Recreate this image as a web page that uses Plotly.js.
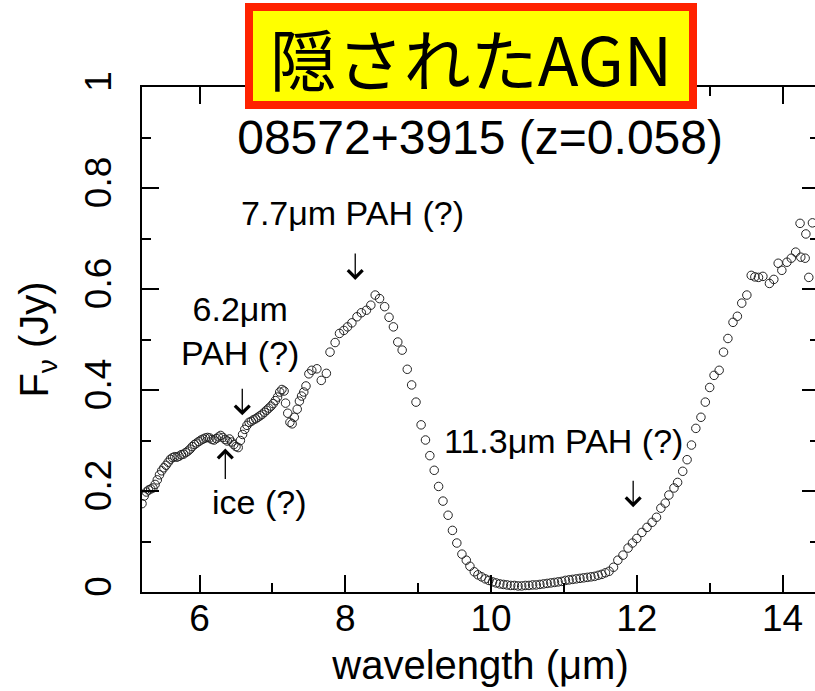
<!DOCTYPE html>
<html>
<head>
<meta charset="utf-8">
<script src="https://cdn.plot.ly/plotly-3.0.1.min.js"></script>
<style>
html,body{margin:0;padding:0;overflow:hidden;background:#fff;}
#chart{width:822px;height:691px;}
</style>
</head>
<body>
<div id="chart"></div>
<script>
const wavelength = [
 5.21,5.24,5.27,5.30,5.33,5.36,5.39,5.42,5.45,5.48,5.51,5.54,5.57,5.60,5.63,5.66,5.69,5.72,5.75,5.78,
 5.81,5.84,5.87,5.90,5.93,5.96,5.99,6.02,6.05,6.08,6.11,6.14,6.17,6.20,6.23,6.26,6.29,6.32,6.35,6.38,
 6.41,6.44,6.47,6.50,6.53,6.56,6.59,6.62,6.65,6.68,6.71,6.74,6.77,6.80,6.83,6.86,6.89,6.92,6.95,6.98,
 7.01,7.04,7.07,7.10,7.13,7.16,
 7.18,7.21,7.24,7.27,7.30,7.34,7.37,7.40,7.43,7.46,7.50,7.54,7.61,7.67,7.74,7.79,7.86,7.92,7.98,8.03,
 8.09,8.16,8.22,8.29,8.35,8.41,8.47,8.54,8.60,8.66,8.72,8.78,8.85,8.91,8.97,9.04,9.10,9.16,9.22,9.28,
 9.34,9.41,9.47,9.53,9.60,9.66,9.71,9.77,9.82,9.87,9.92,9.97,10.02,10.07,10.12,10.17,10.22,10.27,10.32,10.37,
 10.42,10.47,10.52,10.57,10.62,10.67,10.72,10.77,10.82,10.87,10.92,10.97,11.02,11.07,11.12,11.17,11.22,11.27,11.32,11.37,
 11.42,11.47,11.52,11.57,11.62,11.68,11.74,11.81,11.88,11.94,12.00,12.07,12.14,12.21,12.27,12.33,12.39,12.44,12.51,12.56,
 12.63,12.69,12.75,12.81,12.88,12.94,13.00,13.06,13.13,13.19,13.25,13.32,13.38,13.44,13.51,13.57,13.62,13.67,13.73,13.82,
 13.88,13.94,13.99,14.06,14.12,14.18,14.24,14.25,14.32,14.31,14.36,14.41
];
const flux = [
 0.175,0.190,0.198,0.202,0.204,0.206,0.213,0.222,0.232,0.240,0.246,0.251,0.257,0.263,0.266,0.268,0.267,0.269,0.272,0.273,
 0.276,0.279,0.283,0.288,0.292,0.295,0.298,0.301,0.303,0.305,0.306,0.305,0.302,0.301,0.304,0.307,0.310,0.306,0.302,0.299,
 0.303,0.297,0.292,0.288,0.286,0.300,0.312,0.322,0.330,0.336,0.338,0.341,0.343,0.346,0.349,0.352,0.356,0.360,0.364,0.368,
 0.373,0.379,0.386,0.396,0.401,0.398,
 0.374,0.354,0.336,0.333,0.346,0.362,0.378,0.388,0.396,0.408,0.432,0.439,0.442,0.419,0.433,0.475,0.494,0.512,0.518,0.525,
 0.533,0.545,0.553,0.558,0.568,0.588,0.581,0.565,0.544,0.525,0.495,0.479,0.441,0.410,0.376,0.331,0.301,0.270,0.241,0.209,
 0.180,0.152,0.122,0.097,0.075,0.063,0.051,0.040,0.034,0.030,0.026,0.023,0.020,0.018,0.016,0.015,0.014,0.013,0.013,0.012,
 0.012,0.013,0.013,0.014,0.014,0.015,0.016,0.017,0.018,0.019,0.020,0.021,0.023,0.024,0.025,0.026,0.027,0.028,0.029,0.030,
 0.031,0.033,0.035,0.038,0.041,0.049,0.063,0.073,0.087,0.097,0.106,0.118,0.128,0.138,0.148,0.166,0.176,0.192,0.206,0.217,
 0.239,0.262,0.291,0.324,0.346,0.376,0.405,0.429,0.439,0.475,0.502,0.534,0.546,0.572,0.588,0.627,0.624,0.623,0.625,0.611,
 0.619,0.651,0.637,0.653,0.661,0.673,0.730,0.663,0.709,0.661,0.623,0.731
];

const xTickVals = [6, 8, 10, 12, 14];
const yTickVals = [0, 0.2, 0.4, 0.6, 0.8, 1];

const mainTitle = "08572+3915 (z=0.058)";
const bannerText = "隠されたAGN";
const xTitle = "wavelength (μm)";
const yTitle = "F<sub>ν</sub> (Jy)";

// feature labels: [text, wavelength, flux]
const featureLabels = [
  ["7.7μm PAH (?)", 8.095, 0.750],
  ["6.2μm<br>PAH (?)", 6.55, 0.516],
  ["ice (?)", 6.82, 0.178],
  ["11.3μm PAH (?)", 11.0, 0.300]
];
// feature arrows: [tip wavelength, tip flux, direction (+1 = points down, -1 = points up)]
const featureArrows = [
  [8.136, 0.618, 1],
  [6.586, 0.350, 1],
  [6.353, 0.284, -1],
  [11.95, 0.168, 1]
];

const FONT = "Liberation Sans, Arial, Helvetica, sans-serif";

const trace = {
  x: wavelength,
  y: flux,
  type: "scatter",
  mode: "markers",
  marker: {symbol: "circle-open", size: 8.5, color: "#222", line: {width: 1, color: "#222"}},
  hoverinfo: "x+y"
};

const annotations = featureLabels.map(f => ({
  text: f[0], x: f[1], y: f[2], xref: "x", yref: "y",
  showarrow: false, xanchor: "center", yanchor: "middle",
  font: {family: FONT, size: 34, color: "#000"}
}));

featureArrows.forEach(a => annotations.push({
  text: "", x: a[0], y: a[1], xref: "x", yref: "y",
  showarrow: true, ax: 0, ay: a[2] > 0 ? -28 : 32,
  arrowhead: 4, arrowsize: 2.2, arrowwidth: 1.3, arrowcolor: "#000"
}));

annotations.push({
  text: bannerText,
  xref: "paper", yref: "paper",
  x: (471 - 142) / 677, y: (592 - 56.5) / 505,
  xanchor: "center", yanchor: "middle",
  showarrow: false,
  width: 436, height: 90,
  bgcolor: "#ffff00", bordercolor: "#ff2200", borderwidth: 8, borderpad: 0,
  font: {family: "Noto Sans CJK JP, sans-serif", size: 67, color: "#000"}
});

const axisCommon = {
  showgrid: false, zeroline: false,
  showline: true, linecolor: "#000", linewidth: 2,
  mirror: "ticks", ticks: "inside", ticklen: 17, tickwidth: 2, tickcolor: "#000",
  tickfont: {family: FONT, size: 37, color: "#000"}
};

const layout = {
  width: 822, height: 691,
  margin: {l: 142, r: 3, t: 87, b: 99, pad: 0},
  paper_bgcolor: "#fff", plot_bgcolor: "#fff",
  showlegend: false,
  font: {family: FONT, color: "#000"},
  title: {
    text: mainTitle,
    xref: "container", yref: "container",
    x: 476 / 815, y: 1 - 137 / 691,
    xanchor: "center", yanchor: "middle",
    font: {family: FONT, size: 48, color: "#000"}
  },
  xaxis: Object.assign({}, axisCommon, {
    range: [5.21, 14.5],
    tickvals: xTickVals,
    minor: {dtick: 1, ticks: "inside", ticklen: 9, tickwidth: 2, tickcolor: "#000"},
    ticklabelstandoff: -7,
    title: {text: xTitle, font: {family: FONT, size: 40, color: "#000"}, standoff: 13}
  }),
  yaxis: Object.assign({}, axisCommon, {
    range: [0, 1],
    tickvals: yTickVals,
    tickangle: -90,
    minor: {dtick: 0.1, ticks: "inside", ticklen: 9, tickwidth: 2, tickcolor: "#000"},
    ticklabelstandoff: 14,
    title: {text: yTitle, font: {family: FONT, size: 40, color: "#000"}, standoff: 17}
  }),
  annotations: annotations
};

Plotly.newPlot("chart", [trace], layout, {displayModeBar: false, staticPlot: true});
</script>
</body>
</html>
